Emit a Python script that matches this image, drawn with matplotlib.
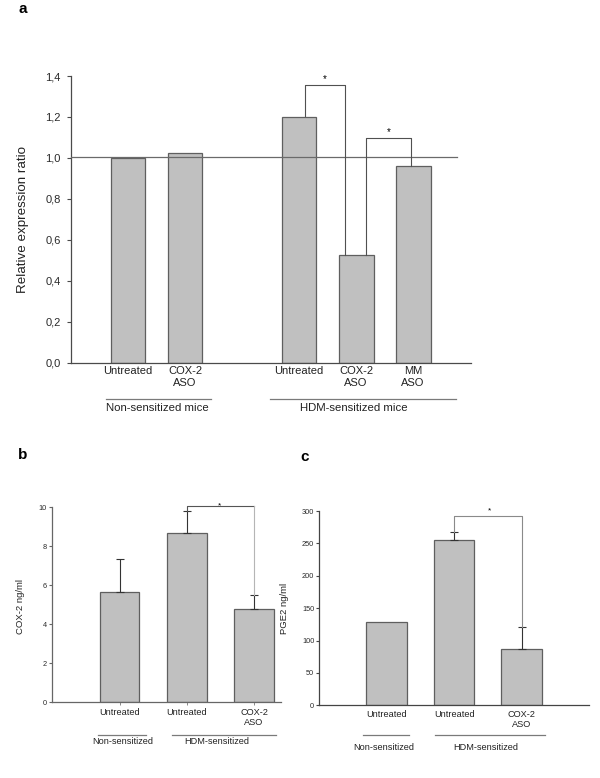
import matplotlib
matplotlib.use('Agg')
import matplotlib.pyplot as plt
from matplotlib import transforms

plt.rcParams['font.family'] = ['Liberation Sans', 'DejaVu Sans']

W, H = 600, 778

# panel a: relative expression
a_labels = ['Untreated', 'COX-2\nASO', 'Untreated', 'COX-2\nASO', 'MM\nASO']
a_pos = [0, 1, 3, 4, 5]
a_values = [1.00, 1.025, 1.198, 0.524, 0.960]
a_yticks = [0.0, 0.2, 0.4, 0.6, 0.8, 1.0, 1.2, 1.4]
a_groups = ['Non-sensitized mice', 'HDM-sensitized mice']

# panel b: COX-2 protein
b_labels = ['Untreated', 'Untreated', 'COX-2\nASO']
b_values = [5.64, 8.67, 4.80]
b_err = [1.69, 1.14, 0.69]
b_yticks = [0, 2, 4, 6, 8, 10]

# panel c: PGE2
c_labels = ['Untreated', 'Untreated', 'COX-2\nASO']
c_values = [128.6, 254.7, 86.9]
c_err = [0, 12.3, 33.5]
c_yticks = [0, 50, 100, 150, 200, 250, 300]

bc_groups = ['Non-sensitized', 'HDM-sensitized']
bc_pos = [1, 2, 3]

BAR = '#c0c0c0'
EDGE = '#5f5f5f'
AXC = '#4a4a4a'

fig = plt.figure(figsize=(W / 100, H / 100), dpi=100)


def px_axes(left, right, top, bottom):
    return fig.add_axes([left / W, 1 - bottom / H, (right - left) / W, (bottom - top) / H])


def fy(y):
    return 1 - y / H


def style(ax, ticklen, fs, pad, color=AXC):
    for s in ['top', 'right']:
        ax.spines[s].set_visible(False)
    for s in ['left', 'bottom']:
        ax.spines[s].set_color(color)
        ax.spines[s].set_linewidth(0.9)
    ax.tick_params(axis='y', direction='out', length=ticklen, width=0.8,
                   color=color, labelsize=fs, pad=pad, labelcolor='#2a2a2a')


def under_labels(ax, pos, labels, y_top, fs, ls):
    tr = transforms.blended_transform_factory(ax.transData, fig.transFigure)
    for p, lab in zip(pos, labels):
        ax.text(p, fy(y_top), lab, transform=tr, ha='center', va='top',
                fontsize=fs, linespacing=ls, color='#222222')
    return tr


def group_line(ax, tr, x0, x1, y_line, xt, y_text, text, fs):
    ax.plot([x0, x1], [fy(y_line), fy(y_line)], transform=tr, color='#7a7a7a',
            lw=0.9, clip_on=False)
    ax.text(xt, fy(y_text), text, transform=tr, ha='center', va='center',
            fontsize=fs, color='#222222')


# ---------------- panel a ----------------
axa = px_axes(70.5, 470.7, 76, 362.5)
axa.bar(a_pos, a_values, width=0.61, color=BAR, edgecolor=EDGE, linewidth=0.9, zorder=2)
axa.set_xlim(-1.01, 6.01)
axa.set_ylim(0, 1.4)
axa.set_yticks(a_yticks)
axa.set_yticklabels([f'{v:.1f}'.replace('.', ',') for v in a_yticks])
axa.set_xticks([])
style(axa, 3, 8, 4)
axa.plot([-1.01, 5.77], [1.005, 1.005], color='#6a6a6a', lw=0.9, zorder=3, clip_on=False)
axa.set_ylabel('Relative expression ratio', fontsize=9.6, color='#222222')
axa.yaxis.set_label_coords(-0.104, 0.5)

# significance brackets
br_col = '#505050'
x1, x2 = a_pos[2] + 0.10, a_pos[3] - 0.19
axa.plot([x1, x1, x2, x2], [a_values[2] + 0.008, 1.358, 1.358, a_values[3]],
         color=br_col, lw=0.8, zorder=3)
axa.text((x1 + x2) / 2, 1.362, '*', ha='center', va='bottom', fontsize=7)
x3, x4 = a_pos[3] + 0.17, a_pos[4] - 0.04
axa.plot([x3, x3, x4, x4], [a_values[3], 1.097, 1.097, a_values[4]],
         color=br_col, lw=0.8, zorder=3)
axa.text((x3 + x4) / 2, 1.101, '*', ha='center', va='bottom', fontsize=7)

tra = under_labels(axa, a_pos, a_labels, 366, 8, 1.3)
group_line(axa, tra, -0.39, 1.46, 399, 0.51, 408, a_groups[0], 8.2)
group_line(axa, tra, 2.49, 5.75, 399, 3.96, 408, a_groups[1], 8.2)

# ---------------- panel b ----------------
axb = px_axes(52.3, 281, 507.3, 702.3)
axb.bar(bc_pos, b_values, width=0.59, color=BAR, edgecolor=EDGE, linewidth=0.9, zorder=2)
axb.errorbar(bc_pos, b_values, yerr=[[0] * 3, b_err], fmt='none', ecolor='#333333',
             elinewidth=0.8, capsize=2.6, capthick=0.8, zorder=3)
axb.set_xlim(0, 3.4)
axb.set_ylim(0, 10)
axb.set_yticks(b_yticks)
axb.set_xticks(bc_pos)
axb.set_xticklabels([])
axb.tick_params(axis='x', direction='out', length=2, width=0.6, color='#777777')
style(axb, 2.2, 5.3, 1.5, color='#666666')
axb.set_ylabel('COX-2 ng/ml', fontsize=6.8, color='#222222')
axb.yaxis.set_label_coords(-0.119, 0.49)
top_b = 10.07
axb.plot([bc_pos[1], bc_pos[1], bc_pos[2]], [b_values[1] + b_err[1], top_b, top_b],
         color='#555555', lw=0.8, clip_on=False, zorder=3)
axb.plot([bc_pos[2], bc_pos[2]], [top_b, b_values[2] + b_err[2]],
         color='#b5b5b5', lw=0.8, clip_on=False, zorder=3)
axb.text(2.49, top_b, '*', ha='center', va='center', fontsize=6)

trb = under_labels(axb, bc_pos, b_labels, 708, 6.6, 1.15)
group_line(axb, trb, 0.68, 1.40, 735, 1.04, 742, bc_groups[0], 6.6)
group_line(axb, trb, 1.78, 3.32, 735, 2.45, 742, bc_groups[1], 6.6)

# ---------------- panel c ----------------
axc = px_axes(319.2, 589, 511, 705.3)
axc.bar(bc_pos, c_values, width=0.6, color=BAR, edgecolor=EDGE, linewidth=0.9, zorder=2)
axc.errorbar(bc_pos[1:], c_values[1:], yerr=[[0, 0], c_err[1:]], fmt='none',
             ecolor='#333333', elinewidth=0.8, capsize=2.6, capthick=0.8, zorder=3)
axc.set_xlim(0, 4)
axc.set_ylim(0, 300)
axc.set_yticks(c_yticks)
axc.set_xticks([])
style(axc, 2, 5.3, 1.5, color='#444444')
axc.set_ylabel('PGE2 ng/ml', fontsize=6.8, color='#222222')
axc.yaxis.set_label_coords(-0.113, 0.5)
top_c = 291.8
axc.plot([bc_pos[1], bc_pos[1], bc_pos[2], bc_pos[2]],
         [c_values[1] + c_err[1], top_c, top_c, c_values[2] + c_err[2]],
         color='#8a8a8a', lw=0.8, clip_on=False, zorder=3)
axc.text(2.53, top_c + 3, '*', ha='center', va='bottom', fontsize=6)

trc = under_labels(axc, bc_pos, c_labels, 710, 6.6, 1.15)
group_line(axc, trc, 0.65, 1.33, 735, 0.96, 748, bc_groups[0], 6.6)
group_line(axc, trc, 1.72, 3.35, 735, 2.47, 748, bc_groups[1], 6.6)

# panel letters
fig.text(23 / W, fy(9), 'a', fontsize=11, fontweight='bold', ha='center', va='center')
fig.text(23 / W, fy(455), 'b', fontsize=11, fontweight='bold', ha='center', va='center')
fig.text(305 / W, fy(456.7), 'c', fontsize=11, fontweight='bold', ha='center', va='center')

fig.savefig('out.png', dpi=100)
